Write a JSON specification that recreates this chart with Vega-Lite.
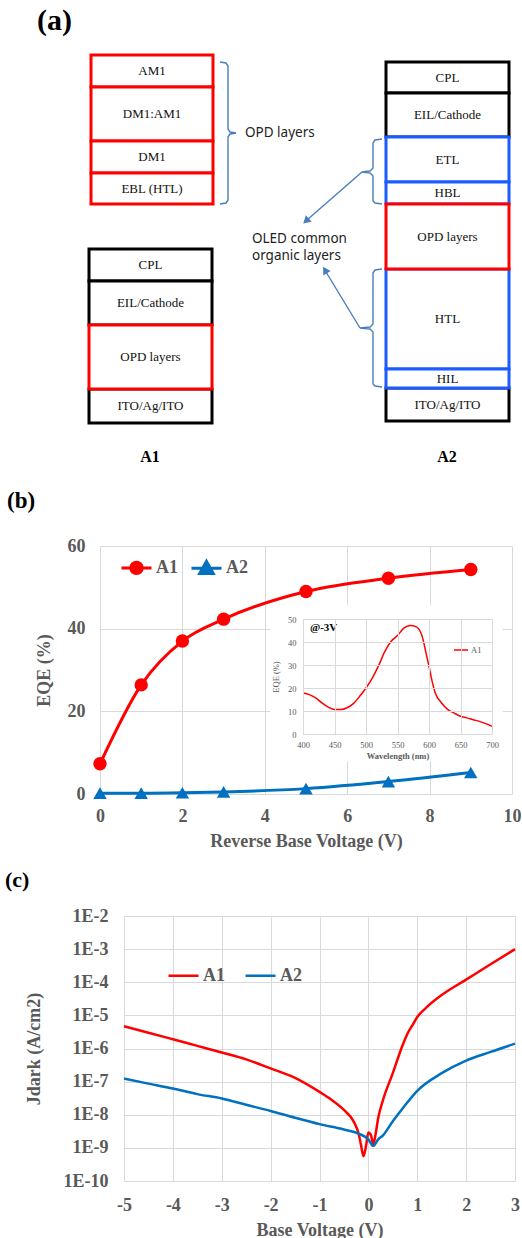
{
  "$schema": "https://vega.github.io/schema/vega-lite/v6.json",
  "background": "white",
  "padding": 0,
  "spacing": 0,
  "resolve": {"scale": {"color": "independent", "stroke": "independent", "shape": "independent"}, "legend": {"color": "independent"}},
  "config": {
    "view": {"stroke": null},
    "axis": {
      "labelFont": "Liberation Serif", "titleFont": "Liberation Serif",
      "labelFontWeight": "bold", "titleFontWeight": "bold",
      "labelColor": "#595959", "titleColor": "#595959",
      "labelFontSize": 18, "titleFontSize": 18,
      "gridColor": "#D9D9D9", "gridWidth": 1,
      "domain": false, "ticks": false, "tickSize": 0,
      "labelOverlap": false, "labelFlush": false
    },
    "legend": {"labelFont": "Liberation Serif", "labelFontWeight": "bold", "labelColor": "#595959", "labelFontSize": 18, "padding": 0}
  },
  "vconcat": [
    {
      "width": 522, "height": 475,
      "layer": [
        {
          "data": {"values": [
            {"label": "CPL", "kind": "electrode", "x0": 89, "x1": 212, "y0": 249, "y1": 281},
            {"label": "EIL/Cathode", "kind": "electrode", "x0": 89, "x1": 212, "y0": 281, "y1": 325},
            {"label": "ITO/Ag/ITO", "kind": "electrode", "x0": 89, "x1": 212, "y0": 389, "y1": 423},
            {"label": "CPL", "kind": "electrode", "x0": 386, "x1": 509, "y0": 62, "y1": 93},
            {"label": "EIL/Cathode", "kind": "electrode", "x0": 386, "x1": 509, "y0": 93, "y1": 137},
            {"label": "ITO/Ag/ITO", "kind": "electrode", "x0": 386, "x1": 509, "y0": 388, "y1": 421},
            {"label": "ETL", "kind": "oled", "x0": 386, "x1": 509, "y0": 137, "y1": 182},
            {"label": "HBL", "kind": "oled", "x0": 386, "x1": 509, "y0": 182, "y1": 204},
            {"label": "HTL", "kind": "oled", "x0": 386, "x1": 509, "y0": 269, "y1": 369},
            {"label": "HIL", "kind": "oled", "x0": 386, "x1": 509, "y0": 369, "y1": 388},
            {"label": "AM1", "kind": "opd", "x0": 91, "x1": 213, "y0": 55, "y1": 87},
            {"label": "DM1:AM1", "kind": "opd", "x0": 91, "x1": 213, "y0": 87, "y1": 141},
            {"label": "DM1", "kind": "opd", "x0": 91, "x1": 213, "y0": 141, "y1": 173},
            {"label": "EBL (HTL)", "kind": "opd", "x0": 91, "x1": 213, "y0": 173, "y1": 204},
            {"label": "OPD layers", "kind": "opd", "x0": 89, "x1": 212, "y0": 325, "y1": 389},
            {"label": "OPD layers", "kind": "opd", "x0": 386, "x1": 509, "y0": 204, "y1": 269}
          ]},
          "layer": [
            {
              "mark": {"type": "rect", "fill": "white", "strokeWidth": 3},
              "encoding": {
                "x": {"field": "x0", "type": "quantitative", "scale": {"domain": [0, 522], "nice": false, "zero": false}, "axis": null},
                "x2": {"field": "x1"},
                "y": {"field": "y0", "type": "quantitative", "scale": {"domain": [0, 475], "range": [0, 475], "nice": false, "zero": false}, "axis": null},
                "y2": {"field": "y1"},
                "stroke": {"field": "kind", "type": "nominal", "scale": {"domain": ["electrode", "oled", "opd"], "range": ["#000000", "#1A5CFF", "#FF0000"]}, "legend": null}
              }
            },
            {
              "transform": [
                {"calculate": "(datum.x0 + datum.x1) / 2", "as": "xc"},
                {"calculate": "(datum.y0 + datum.y1) / 2", "as": "yc"}
              ],
              "mark": {"type": "text", "font": "Liberation Serif", "fontSize": 13, "color": "#111111", "align": "center", "baseline": "middle"},
              "encoding": {
                "x": {"field": "xc", "type": "quantitative", "scale": {"domain": [0, 522], "nice": false, "zero": false}, "axis": null},
                "y": {"field": "yc", "type": "quantitative", "scale": {"domain": [0, 475], "range": [0, 475], "nice": false, "zero": false}, "axis": null},
                "text": {"field": "label"}
              }
            }
          ]
        },
        {
          "data": {"values": [
            {"path": "b1", "i": 0, "x": 220, "y": 62}, {"path": "b1", "i": 1, "x": 226, "y": 63}, {"path": "b1", "i": 2, "x": 228, "y": 66},
            {"path": "b1", "i": 3, "x": 228, "y": 129}, {"path": "b1", "i": 4, "x": 230, "y": 132}, {"path": "b1", "i": 5, "x": 236, "y": 133},
            {"path": "b1", "i": 6, "x": 230, "y": 134}, {"path": "b1", "i": 7, "x": 228, "y": 137}, {"path": "b1", "i": 8, "x": 228, "y": 200},
            {"path": "b1", "i": 9, "x": 226, "y": 203}, {"path": "b1", "i": 10, "x": 220, "y": 204},
            {"path": "b2", "i": 0, "x": 382, "y": 139}, {"path": "b2", "i": 1, "x": 375, "y": 140}, {"path": "b2", "i": 2, "x": 373, "y": 143},
            {"path": "b2", "i": 3, "x": 373, "y": 168}, {"path": "b2", "i": 4, "x": 370, "y": 171}, {"path": "b2", "i": 5, "x": 362, "y": 172},
            {"path": "b2", "i": 6, "x": 370, "y": 173}, {"path": "b2", "i": 7, "x": 373, "y": 176}, {"path": "b2", "i": 8, "x": 373, "y": 201},
            {"path": "b2", "i": 9, "x": 375, "y": 203}, {"path": "b2", "i": 10, "x": 382, "y": 204},
            {"path": "b3", "i": 0, "x": 382, "y": 269}, {"path": "b3", "i": 1, "x": 375, "y": 270}, {"path": "b3", "i": 2, "x": 373, "y": 273},
            {"path": "b3", "i": 3, "x": 373, "y": 324}, {"path": "b3", "i": 4, "x": 370, "y": 327}, {"path": "b3", "i": 5, "x": 360, "y": 328},
            {"path": "b3", "i": 6, "x": 370, "y": 329}, {"path": "b3", "i": 7, "x": 373, "y": 332}, {"path": "b3", "i": 8, "x": 373, "y": 384},
            {"path": "b3", "i": 9, "x": 375, "y": 386}, {"path": "b3", "i": 10, "x": 382, "y": 387},
            {"path": "a1", "i": 0, "x": 362, "y": 172}, {"path": "a1", "i": 1, "x": 307, "y": 220},
            {"path": "a2", "i": 0, "x": 360, "y": 328}, {"path": "a2", "i": 1, "x": 326, "y": 272}
          ]},
          "mark": {"type": "line", "color": "#4A7EBB", "strokeWidth": 1.4},
          "encoding": {
            "x": {"field": "x", "type": "quantitative", "scale": {"domain": [0, 522], "nice": false, "zero": false}, "axis": null},
            "y": {"field": "y", "type": "quantitative", "scale": {"domain": [0, 475], "range": [0, 475], "nice": false, "zero": false}, "axis": null},
            "detail": {"field": "path"},
            "order": {"field": "i", "type": "quantitative"}
          }
        },
        {
          "data": {"values": [{}]},
          "mark": {"type": "point", "shape": "triangle-up", "filled": true, "opacity": 1, "size": 75, "color": "#4A7EBB", "angle": 228},
          "encoding": {
            "x": {"datum": 306, "type": "quantitative", "scale": {"domain": [0, 522], "nice": false, "zero": false}, "axis": null},
            "y": {"datum": 221, "type": "quantitative", "scale": {"domain": [0, 475], "range": [0, 475], "nice": false, "zero": false}, "axis": null}
          }
        },
        {
          "data": {"values": [{}]},
          "mark": {"type": "point", "shape": "triangle-up", "filled": true, "opacity": 1, "size": 75, "color": "#4A7EBB", "angle": 328},
          "encoding": {
            "x": {"datum": 325, "type": "quantitative", "scale": {"domain": [0, 522], "nice": false, "zero": false}, "axis": null},
            "y": {"datum": 270, "type": "quantitative", "scale": {"domain": [0, 475], "range": [0, 475], "nice": false, "zero": false}, "axis": null}
          }
        },
        {
          "data": {"values": [{}]},
          "mark": {"type": "text", "text": "(a)", "font": "Liberation Serif", "fontSize": 30, "fontWeight": "bold", "color": "#000000", "align": "left", "baseline": "middle"},
          "encoding": {
            "x": {"datum": 37, "type": "quantitative", "scale": {"domain": [0, 522], "nice": false, "zero": false}, "axis": null},
            "y": {"datum": 21, "type": "quantitative", "scale": {"domain": [0, 475], "range": [0, 475], "nice": false, "zero": false}, "axis": null}
          }
        },
        {
          "data": {"values": [{}]},
          "mark": {"type": "text", "text": "OPD layers", "font": "Noto Sans", "fontSize": 13.5, "color": "#222222", "align": "left", "baseline": "middle"},
          "encoding": {
            "x": {"datum": 245, "type": "quantitative", "scale": {"domain": [0, 522], "nice": false, "zero": false}, "axis": null},
            "y": {"datum": 133, "type": "quantitative", "scale": {"domain": [0, 475], "range": [0, 475], "nice": false, "zero": false}, "axis": null}
          }
        },
        {
          "data": {"values": [{}]},
          "mark": {"type": "text", "text": ["OLED common", "organic layers"], "lineHeight": 17, "font": "Noto Sans", "fontSize": 13.5, "color": "#222222", "align": "left", "baseline": "middle"},
          "encoding": {
            "x": {"datum": 252, "type": "quantitative", "scale": {"domain": [0, 522], "nice": false, "zero": false}, "axis": null},
            "y": {"datum": 239, "type": "quantitative", "scale": {"domain": [0, 475], "range": [0, 475], "nice": false, "zero": false}, "axis": null}
          }
        },
        {
          "data": {"values": [{}]},
          "mark": {"type": "text", "text": "A1", "font": "Liberation Serif", "fontSize": 16, "fontWeight": "bold", "color": "#000000", "align": "center", "baseline": "middle"},
          "encoding": {
            "x": {"datum": 150, "type": "quantitative", "scale": {"domain": [0, 522], "nice": false, "zero": false}, "axis": null},
            "y": {"datum": 457, "type": "quantitative", "scale": {"domain": [0, 475], "range": [0, 475], "nice": false, "zero": false}, "axis": null}
          }
        },
        {
          "data": {"values": [{}]},
          "mark": {"type": "text", "text": "A2", "font": "Liberation Serif", "fontSize": 16, "fontWeight": "bold", "color": "#000000", "align": "center", "baseline": "middle"},
          "encoding": {
            "x": {"datum": 447, "type": "quantitative", "scale": {"domain": [0, 522], "nice": false, "zero": false}, "axis": null},
            "y": {"datum": 457, "type": "quantitative", "scale": {"domain": [0, 475], "range": [0, 475], "nice": false, "zero": false}, "axis": null}
          }
        }
      ]
    },
    {
      "width": 522, "height": 390,
      "title": {"text": "(b)", "anchor": "start", "frame": "group", "offset": -38, "dx": 7, "font": "Liberation Serif", "fontSize": 23, "fontWeight": "bold", "color": "#000000"},
      "layer": [
        {
          "data": {"values": [
            {"device": "A1", "voltage": 0, "eqe": 7.3}, {"device": "A1", "voltage": 1, "eqe": 26.4}, {"device": "A1", "voltage": 2, "eqe": 37.0},
            {"device": "A1", "voltage": 3, "eqe": 42.3}, {"device": "A1", "voltage": 5, "eqe": 49.0}, {"device": "A1", "voltage": 7, "eqe": 52.2},
            {"device": "A1", "voltage": 9, "eqe": 54.3},
            {"device": "A2", "voltage": 0, "eqe": 0.2}, {"device": "A2", "voltage": 1, "eqe": 0.2}, {"device": "A2", "voltage": 2, "eqe": 0.3},
            {"device": "A2", "voltage": 3, "eqe": 0.5}, {"device": "A2", "voltage": 5, "eqe": 1.3}, {"device": "A2", "voltage": 7, "eqe": 3.0},
            {"device": "A2", "voltage": 9, "eqe": 5.2}
          ]},
          "layer": [
            {
              "mark": {"type": "line", "interpolate": "monotone", "strokeWidth": 3},
              "encoding": {
                "x": {"field": "voltage", "type": "quantitative", "scale": {"domain": [0, 10], "range": [100, 512], "nice": false, "zero": false},
                      "axis": {"values": [0, 2, 4, 6, 8, 10], "title": "Reverse Base Voltage (V)", "orient": "bottom", "offset": -71, "labelPadding": 13, "titlePadding": 7, "grid": true}},
                "y": {"field": "eqe", "type": "quantitative", "scale": {"domain": [0, 60], "range": [319, 71], "nice": false, "zero": false},
                      "axis": {"values": [0, 20, 40, 60], "title": "EQE (%)", "orient": "left", "offset": -100, "labelPadding": 15, "titlePadding": 14, "grid": true}},
                "color": {"field": "device", "type": "nominal", "scale": {"domain": ["A1", "A2"], "range": ["#FF0000", "#0070C0"]},
                          "legend": {"title": null, "orient": "none", "legendX": 120, "legendY": 76, "direction": "horizontal", "symbolSize": 900, "labelOffset": 3, "columnPadding": 7,
                                     "encoding": {"symbols": {
                                       "shape": {"value": {"expr": "datum.value === 'A1' ? 'M-1,0L1,0M0.38,0A0.38,0.38,0,1,1,-0.38,0A0.38,0.38,0,1,1,0.38,0Z' : 'M-1,0L1,0M0,-0.45L0.45,0.35L-0.45,0.35Z'"}},
                                       "fill": {"value": {"expr": "datum.value === 'A1' ? '#FF0000' : '#0070C0'"}},
                                       "stroke": {"value": {"expr": "datum.value === 'A1' ? '#FF0000' : '#0070C0'"}},
                                       "strokeWidth": {"value": 3},
                                       "opacity": {"value": 1}
                                     }}}}
              }
            },
            {
              "mark": {"type": "point", "filled": true, "opacity": 1, "size": 180},
              "encoding": {
                "x": {"field": "voltage", "type": "quantitative", "scale": {"domain": [0, 10], "range": [100, 512], "nice": false, "zero": false},
                      "axis": {"values": [0, 2, 4, 6, 8, 10], "title": "Reverse Base Voltage (V)", "orient": "bottom", "offset": -71, "labelPadding": 13, "titlePadding": 7, "grid": true}},
                "y": {"field": "eqe", "type": "quantitative", "scale": {"domain": [0, 60], "range": [319, 71], "nice": false, "zero": false},
                      "axis": {"values": [0, 20, 40, 60], "title": "EQE (%)", "orient": "left", "offset": -100, "labelPadding": 15, "titlePadding": 14, "grid": true}},
                "color": {"field": "device", "type": "nominal", "scale": {"domain": ["A1", "A2"], "range": ["#FF0000", "#0070C0"]}},
                "shape": {"field": "device", "type": "nominal", "scale": {"domain": ["A1", "A2"], "range": ["circle", "triangle-up"]}, "legend": null}
              }
            }
          ]
        },
        {
          "layer": [
            {
              "data": {"values": [{}]},
              "mark": {"type": "rect", "fill": "white"},
              "encoding": {
                "x": {"datum": 348, "type": "quantitative", "scale": {"domain": [400, 700], "range": [303, 492], "nice": false, "zero": false},
                      "axis": {"orient": "top", "offset": -274, "values": [400, 450, 500, 550, 600, 650, 700], "title": "Wavelength (nm)", "labelFontSize": 8.5, "labelFontWeight": "normal", "titleFontSize": 8.5, "labelPadding": 0, "titleY": 6, "titleBaseline": "middle", "grid": true, "zindex": 1}},
                "x2": {"datum": 717},
                "y": {"datum": 56, "type": "quantitative", "scale": {"domain": [0, 50], "range": [259, 144], "nice": false, "zero": false},
                      "axis": {"orient": "left", "offset": -303, "values": [0, 10, 20, 30, 40, 50], "title": "EQE (%)", "labelFontSize": 8.5, "labelFontWeight": "normal", "titleFontSize": 8.5, "titleFontWeight": "normal", "labelPadding": 7, "titlePadding": 7, "grid": true, "zindex": 1}},
                "y2": {"datum": -12}
              }
            },
            {
              "data": {"values": [
                {"device": "A1", "wavelength": 400, "eqe": 17.8}, {"device": "A1", "wavelength": 410, "eqe": 17.1}, {"device": "A1", "wavelength": 420, "eqe": 15.7},
                {"device": "A1", "wavelength": 430, "eqe": 13.5}, {"device": "A1", "wavelength": 440, "eqe": 11.7}, {"device": "A1", "wavelength": 450, "eqe": 10.6},
                {"device": "A1", "wavelength": 460, "eqe": 10.6}, {"device": "A1", "wavelength": 470, "eqe": 11.4}, {"device": "A1", "wavelength": 480, "eqe": 13.2},
                {"device": "A1", "wavelength": 490, "eqe": 16.4}, {"device": "A1", "wavelength": 500, "eqe": 20.0}, {"device": "A1", "wavelength": 510, "eqe": 24.3},
                {"device": "A1", "wavelength": 520, "eqe": 29.7}, {"device": "A1", "wavelength": 530, "eqe": 35.9}, {"device": "A1", "wavelength": 540, "eqe": 40.3},
                {"device": "A1", "wavelength": 550, "eqe": 42.8}, {"device": "A1", "wavelength": 560, "eqe": 46.0}, {"device": "A1", "wavelength": 570, "eqe": 47.2},
                {"device": "A1", "wavelength": 580, "eqe": 46.6}, {"device": "A1", "wavelength": 590, "eqe": 41.7}, {"device": "A1", "wavelength": 595, "eqe": 35.5},
                {"device": "A1", "wavelength": 600, "eqe": 29.4}, {"device": "A1", "wavelength": 605, "eqe": 22.9}, {"device": "A1", "wavelength": 610, "eqe": 17.8},
                {"device": "A1", "wavelength": 620, "eqe": 13.5}, {"device": "A1", "wavelength": 630, "eqe": 10.6}, {"device": "A1", "wavelength": 640, "eqe": 9.1},
                {"device": "A1", "wavelength": 650, "eqe": 7.7}, {"device": "A1", "wavelength": 660, "eqe": 7.0}, {"device": "A1", "wavelength": 670, "eqe": 6.2},
                {"device": "A1", "wavelength": 680, "eqe": 5.5}, {"device": "A1", "wavelength": 690, "eqe": 4.5}, {"device": "A1", "wavelength": 700, "eqe": 3.3}
              ]},
              "mark": {"type": "line", "interpolate": "monotone", "strokeWidth": 1.5},
              "encoding": {
                "x": {"field": "wavelength", "type": "quantitative", "scale": {"domain": [400, 700], "range": [303, 492], "nice": false, "zero": false},
                      "axis": {"orient": "top", "offset": -274, "values": [400, 450, 500, 550, 600, 650, 700], "title": "Wavelength (nm)", "labelFontSize": 8.5, "labelFontWeight": "normal", "titleFontSize": 8.5, "labelPadding": 0, "titleY": 6, "titleBaseline": "middle", "grid": true, "zindex": 1}},
                "y": {"field": "eqe", "type": "quantitative", "scale": {"domain": [0, 50], "range": [259, 144], "nice": false, "zero": false},
                      "axis": {"orient": "left", "offset": -303, "values": [0, 10, 20, 30, 40, 50], "title": "EQE (%)", "labelFontSize": 8.5, "labelFontWeight": "normal", "titleFontSize": 8.5, "titleFontWeight": "normal", "labelPadding": 7, "titlePadding": 7, "grid": true, "zindex": 1}},
                "color": {"field": "device", "type": "nominal", "scale": {"domain": ["A1"], "range": ["#FF0000"]},
                          "legend": {"title": null, "orient": "none", "legendX": 453, "legendY": 167, "symbolType": "stroke", "symbolSize": 196, "symbolStrokeWidth": 1.5, "labelFontSize": 8.5, "labelFontWeight": "normal", "labelOffset": 2}}
              }
            },
            {
              "data": {"values": [{}]},
              "mark": {"type": "text", "text": "@-3V", "font": "Liberation Serif", "fontSize": 11, "fontWeight": "bold", "color": "#000000", "align": "left", "baseline": "middle"},
              "encoding": {
                "x": {"datum": 411, "type": "quantitative", "scale": {"domain": [400, 700], "range": [303, 492], "nice": false, "zero": false},
                      "axis": {"orient": "top", "offset": -274, "values": [400, 450, 500, 550, 600, 650, 700], "title": "Wavelength (nm)", "labelFontSize": 8.5, "labelFontWeight": "normal", "titleFontSize": 8.5, "labelPadding": 0, "titleY": 6, "titleBaseline": "middle", "grid": true, "zindex": 1}},
                "y": {"datum": 46.2, "type": "quantitative", "scale": {"domain": [0, 50], "range": [259, 144], "nice": false, "zero": false},
                      "axis": {"orient": "left", "offset": -303, "values": [0, 10, 20, 30, 40, 50], "title": "EQE (%)", "labelFontSize": 8.5, "labelFontWeight": "normal", "titleFontSize": 8.5, "titleFontWeight": "normal", "labelPadding": 7, "titlePadding": 7, "grid": true, "zindex": 1}}
              }
            }
          ]
        }
      ],
      "resolve": {"scale": {"x": "independent", "y": "independent", "color": "independent"}}
    },
    {
      "width": 522, "height": 367,
      "title": {"text": "(c)", "anchor": "start", "frame": "group", "offset": -27, "dx": 5, "font": "Liberation Serif", "fontSize": 22, "fontWeight": "bold", "color": "#000000"},
      "data": {"values": [
        {"device": "A1", "voltage": -5, "jdark": 4.7e-6}, {"device": "A1", "voltage": -4.5, "jdark": 3.0e-6}, {"device": "A1", "voltage": -4, "jdark": 1.9e-6},
        {"device": "A1", "voltage": -3.5, "jdark": 1.2e-6}, {"device": "A1", "voltage": -3, "jdark": 7.6e-7}, {"device": "A1", "voltage": -2.5, "jdark": 4.7e-7},
        {"device": "A1", "voltage": -2, "jdark": 2.5e-7}, {"device": "A1", "voltage": -1.5, "jdark": 1.3e-7}, {"device": "A1", "voltage": -1, "jdark": 4.9e-8},
        {"device": "A1", "voltage": -0.75, "jdark": 2.8e-8}, {"device": "A1", "voltage": -0.5, "jdark": 1.4e-8}, {"device": "A1", "voltage": -0.3, "jdark": 6.2e-9},
        {"device": "A1", "voltage": -0.2, "jdark": 2.7e-9}, {"device": "A1", "voltage": -0.15, "jdark": 1.2e-9}, {"device": "A1", "voltage": -0.1, "jdark": 5.6e-10},
        {"device": "A1", "voltage": -0.05, "jdark": 1.1e-9}, {"device": "A1", "voltage": 0, "jdark": 2.9e-9}, {"device": "A1", "voltage": 0.05, "jdark": 2.5e-9},
        {"device": "A1", "voltage": 0.1, "jdark": 1.3e-9}, {"device": "A1", "voltage": 0.15, "jdark": 2.7e-9}, {"device": "A1", "voltage": 0.2, "jdark": 7.8e-9},
        {"device": "A1", "voltage": 0.3, "jdark": 2.8e-8}, {"device": "A1", "voltage": 0.5, "jdark": 1.8e-7}, {"device": "A1", "voltage": 0.7, "jdark": 1.26e-6},
        {"device": "A1", "voltage": 0.8, "jdark": 2.8e-6}, {"device": "A1", "voltage": 0.9, "jdark": 5.0e-6}, {"device": "A1", "voltage": 1.0, "jdark": 8.9e-6},
        {"device": "A1", "voltage": 1.2, "jdark": 1.8e-5}, {"device": "A1", "voltage": 1.5, "jdark": 4.1e-5}, {"device": "A1", "voltage": 2.0, "jdark": 1.2e-4},
        {"device": "A1", "voltage": 2.5, "jdark": 3.5e-4}, {"device": "A1", "voltage": 3.0, "jdark": 1.0e-3},
        {"device": "A2", "voltage": -5, "jdark": 1.23e-7}, {"device": "A2", "voltage": -4.5, "jdark": 8.7e-8}, {"device": "A2", "voltage": -4, "jdark": 6.2e-8},
        {"device": "A2", "voltage": -3.5, "jdark": 4.2e-8}, {"device": "A2", "voltage": -3, "jdark": 3.1e-8}, {"device": "A2", "voltage": -2.5, "jdark": 2.0e-8},
        {"device": "A2", "voltage": -2, "jdark": 1.3e-8}, {"device": "A2", "voltage": -1.5, "jdark": 8.1e-9}, {"device": "A2", "voltage": -1, "jdark": 5.2e-9},
        {"device": "A2", "voltage": -0.5, "jdark": 3.6e-9}, {"device": "A2", "voltage": -0.2, "jdark": 2.7e-9}, {"device": "A2", "voltage": 0, "jdark": 1.8e-9},
        {"device": "A2", "voltage": 0.1, "jdark": 1.15e-9}, {"device": "A2", "voltage": 0.2, "jdark": 1.8e-9}, {"device": "A2", "voltage": 0.3, "jdark": 2.4e-9},
        {"device": "A2", "voltage": 0.5, "jdark": 6.4e-9}, {"device": "A2", "voltage": 0.7, "jdark": 1.55e-8}, {"device": "A2", "voltage": 1.0, "jdark": 5.3e-8},
        {"device": "A2", "voltage": 1.5, "jdark": 1.8e-7}, {"device": "A2", "voltage": 2.0, "jdark": 4.3e-7}, {"device": "A2", "voltage": 2.5, "jdark": 7.9e-7},
        {"device": "A2", "voltage": 3.0, "jdark": 1.4e-6}
      ]},
      "mark": {"type": "line", "interpolate": "monotone", "strokeWidth": 2.5},
      "encoding": {
        "x": {"field": "voltage", "type": "quantitative", "scale": {"domain": [-5, 3], "range": [124, 515], "nice": false, "zero": false},
              "axis": {"values": [-5, -4, -3, -2, -1, 0, 1, 2, 3], "labelExpr": "'' + datum.value", "title": "Base Voltage (V)", "orient": "bottom", "offset": -51, "labelPadding": 15, "titlePadding": 7, "grid": true}},
        "y": {"field": "jdark", "type": "quantitative", "scale": {"type": "log", "domain": [1e-10, 1e-2], "range": [316, 51], "nice": false},
              "axis": {"values": [1e-10, 1e-9, 1e-8, 1e-7, 1e-6, 1e-5, 1e-4, 1e-3, 1e-2], "labelExpr": "'1E' + round(log(datum.value) / LN10)", "title": "Jdark (A/cm2)", "orient": "left", "offset": -124, "labelPadding": 16, "titlePadding": 20, "grid": true}},
        "color": {"field": "device", "type": "nominal", "scale": {"domain": ["A1", "A2"], "range": ["#FF0000", "#0070C0"]},
                  "legend": {"title": null, "orient": "none", "legendX": 167, "legendY": 94, "direction": "horizontal", "symbolType": "stroke", "symbolSize": 900, "symbolStrokeWidth": 2.5, "labelOffset": 3, "columnPadding": 15}}
      }
    }
  ]
}
